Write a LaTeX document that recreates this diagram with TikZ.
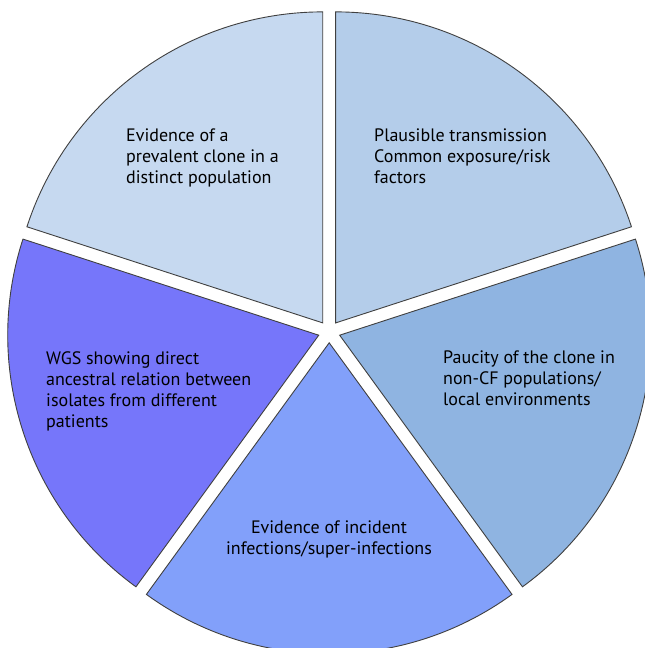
\documentclass[tikz,border=0pt]{standalone}
\usepackage{fontspec}
\setmainfont{PT Sans}
\begin{document}
\begin{tikzpicture}[x=1pt,y=1pt,
  slice/.style={draw=black!75, line width=0.9pt, line join=miter},
  label/.style={inner sep=0pt, align=left, anchor=north west, font=\fontsize{18}{21}\selectfont},
]
\definecolor{sliceA}{RGB}{198,217,240}
\definecolor{sliceB}{RGB}{180,205,234}
\definecolor{sliceC}{RGB}{143,180,225}
\definecolor{sliceD}{RGB}{130,160,250}
\definecolor{sliceE}{RGB}{118,118,250}
\useasboundingbox (0,0) rectangle (645,648);
\fill[white] (0,0) rectangle (645,648);
\coordinate (C) at (329.2,316.2);
\def\pieR{311}
\def\pieOff{11}
% each wedge is pushed out along its bisector
\path (C) ++(126:\pieOff) coordinate (pA);
\path (C) ++(54:\pieOff) coordinate (pB);
\path (C) ++(-18:\pieOff) coordinate (pC);
\path (C) ++(-90:\pieOff) coordinate (pD);
\path (C) ++(198:\pieOff) coordinate (pE);
\draw[slice, fill=sliceA] (pA) -- ++(90:\pieR) arc[start angle=90, end angle=162, radius=\pieR] -- cycle;
\draw[slice, fill=sliceB] (pB) -- ++(18:\pieR) arc[start angle=18, end angle=90, radius=\pieR] -- cycle;
\draw[slice, fill=sliceC] (pC) -- ++(-54:\pieR) arc[start angle=-54, end angle=18, radius=\pieR] -- cycle;
\draw[slice, fill=sliceD] (pD) -- ++(-126:\pieR) arc[start angle=-126, end angle=-54, radius=\pieR] -- cycle;
\draw[slice, fill=sliceE] (pE) -- ++(162:\pieR) arc[start angle=162, end angle=234, radius=\pieR] -- cycle;
% wedge texts
\node[label] (tA) at (126,519) {Evidence of a\\prevalent clone in a\\distinct population};
\node[label] (tB) at (374,519) {Plausible transmission\\Common exposure/risk\\factors};
\node[label] (tC) at (443,297) {Paucity of the clone in\\non-CF populations/\\local environments};
\node[label, align=center, anchor=north] (tD) at (329,127) {Evidence of incident\\infections/super-infections};
\node[label] (tE) at (46,297) {WGS showing direct\\ancestral relation between\\isolates from different\\patients};
\end{tikzpicture}
\end{document}
